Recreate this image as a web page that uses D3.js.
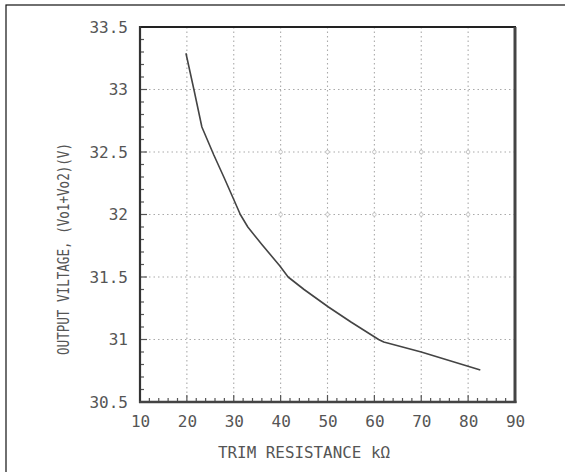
<!DOCTYPE html>
<html>
<head>
<meta charset="utf-8">
<script src="https://cdn.jsdelivr.net/npm/d3@7"></script>
<style>
  html, body { margin: 0; padding: 0; background: #fff; }
  svg { display: block; }
  text { font-family: "DejaVu Sans Mono", "Liberation Mono", monospace; fill: #555; }
</style>
</head>
<body>
<script>
// ---- data ----
const trimResistance = [19.8, 21.5, 23.2, 25.7, 28.0, 30.0, 31.4, 33.0, 36.0, 39.8, 41.6, 45.0, 50.2, 55.0, 60.9, 62.0, 70.0, 82.6];
const outputVoltage  = [33.29, 33.0, 32.70, 32.48, 32.29, 32.12, 32.0, 31.9, 31.76, 31.59, 31.5, 31.4, 31.26, 31.14, 31.0, 30.98, 30.9, 30.756];
const xTickValues = [10, 20, 30, 40, 50, 60, 70, 80, 90];
const yTickValues = [30.5, 31, 31.5, 32, 32.5, 33, 33.5];
const yTickLabels = ["30.5", "31", "31.5", "32", "32.5", "33", "33.5"];
const xTitle = "TRIM RESISTANCE k\u03A9";
const yTitle = "OUTPUT VILTAGE, (Vo1+Vo2)(V)";

const W = 565, H = 472;
const m = { left: 140, right: 515, top: 27, bottom: 402 };

const svg = d3.select("body").append("svg").attr("width", W).attr("height", H);

// outer frame (extends past the picture's right/bottom edge)
svg.append("rect").attr("x", 6).attr("y", 5).attr("width", 600).attr("height", 600)
  .attr("fill", "none").attr("stroke", "#111").attr("stroke-width", 1.2);

const x = d3.scaleLinear().domain([10, 90]).range([m.left, m.right]);
const y = d3.scaleLinear().domain([30.5, 33.5]).range([m.bottom, m.top]);

// grid
const grid = svg.append("g").attr("stroke", "#aaa").attr("stroke-width", 1.1).attr("stroke-dasharray", "1.5,3");
xTickValues.slice(1, -1).forEach(v => {
  grid.append("line").attr("x1", x(v)).attr("x2", x(v)).attr("y1", m.top).attr("y2", m.bottom);
});
yTickValues.slice(1, -1).forEach(v => {
  grid.append("line").attr("x1", m.left).attr("x2", m.right).attr("y1", y(v)).attr("y2", y(v));
});

// little rings at some grid crossings
const ringRows = [32.5, 32];
ringRows.forEach(r => {
  [40, 50, 60, 70, 80].forEach(c => {
    svg.append("circle").attr("cx", x(c)).attr("cy", y(r)).attr("r", 1.8)
      .attr("fill", "#fff").attr("stroke", "#bbb").attr("stroke-width", 0.8);
  });
});

// inward ticks
const xMinor = d3.range(10, 90.01, 2);
const yMinor = d3.range(30.5, 33.501, 0.1);
const tg = svg.append("g").attr("stroke", "#555").attr("stroke-width", 1.2);
xMinor.forEach(v => {
  const major = Math.abs(v % 10) < 1e-6;
  tg.append("line").attr("x1", x(v)).attr("x2", x(v)).attr("y1", m.bottom).attr("y2", m.bottom - (major ? 7 : 4));
});
yMinor.forEach(v => {
  const k = Math.round(v * 10) % 5;
  tg.append("line").attr("x1", m.left).attr("x2", m.left + (k === 0 ? 7 : 4)).attr("y1", y(v)).attr("y2", y(v));
});

// frame of plot
svg.append("line").attr("x1", m.left).attr("x2", m.right + 1).attr("y1", m.top).attr("y2", m.top)
  .attr("stroke", "#222").attr("stroke-width", 2);
svg.append("line").attr("x1", m.right).attr("x2", m.right).attr("y1", m.top).attr("y2", m.bottom + 1)
  .attr("stroke", "#444").attr("stroke-width", 3);
svg.append("line").attr("x1", m.left).attr("x2", m.left).attr("y1", m.top - 1).attr("y2", m.bottom + 1)
  .attr("stroke", "#333").attr("stroke-width", 2.2);
svg.append("line").attr("x1", m.left - 1).attr("x2", m.right + 1.5).attr("y1", m.bottom).attr("y2", m.bottom)
  .attr("stroke", "#444").attr("stroke-width", 2.5);

// tick labels
const xAxis = d3.axisBottom(x).tickValues(xTickValues).tickSize(0).tickPadding(0).tickFormat(d3.format("d"));
svg.append("g").attr("transform", `translate(0,${m.bottom + 14})`).call(xAxis)
  .call(g => g.select(".domain").remove())
  .selectAll("text").attr("font-size", 16).attr("font-family", "DejaVu Sans Mono").attr("fill", "#555");

const yAxis = d3.axisLeft(y).tickValues(yTickValues).tickSize(0).tickPadding(12)
  .tickFormat((d, i) => yTickLabels[i]);
svg.append("g").attr("transform", `translate(${m.left},0)`).call(yAxis)
  .call(g => g.select(".domain").remove())
  .selectAll("text").attr("font-size", 16).attr("font-family", "DejaVu Sans Mono").attr("fill", "#555");

// titles
svg.append("text").attr("x", 304).attr("y", 458).attr("text-anchor", "middle")
  .attr("font-size", 16).attr("textLength", 172).attr("lengthAdjust", "spacingAndGlyphs").text(xTitle);
svg.append("text").attr("transform", "translate(69,249) rotate(-90)").attr("text-anchor", "middle")
  .attr("font-size", 15).attr("textLength", 212).attr("lengthAdjust", "spacingAndGlyphs").text(yTitle);

// curve
const pts = trimResistance.map((r, i) => [r, outputVoltage[i]]);
const line = d3.line().x(d => x(d[0])).y(d => y(d[1]));
svg.append("path").datum(pts).attr("d", line).attr("fill", "none")
  .attr("stroke", "#444").attr("stroke-width", 1.6).attr("stroke-linejoin", "round");
</script>
</body>
</html>
